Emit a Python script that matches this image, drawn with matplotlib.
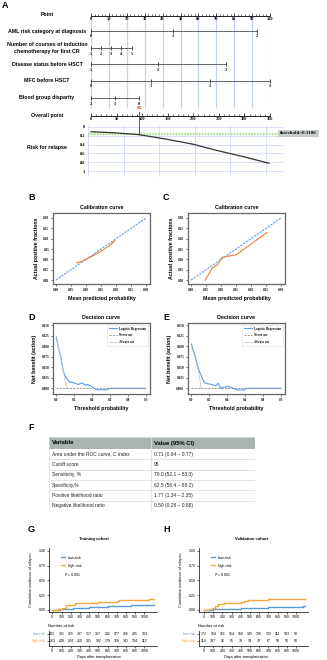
import numpy as np
import matplotlib
matplotlib.use('Agg')
import matplotlib.pyplot as plt

plt.rcParams['font.family'] = ['Liberation Sans', 'DejaVu Sans']
SERIF = ['Liberation Serif', 'DejaVu Serif']

# ---- A: nomogram
point_ticks = list(range(0, 101, 10))
aml_labels = ['0', '1', '2']
aml_points = [0, 45.8, 92.7]
course_labels = ['1', '2', '3', '4', '5']
course_points = [0, 5.6, 11.3, 16.9, 22.8]
status_labels = ['1', '2', '3']
status_points = [0, 37.4, 75.4]
mfc_labels = ['0', '1', '2', '3']
mfc_points = [0, 33.5, 66.5, 100]
blood_labels = ['2', '1', '0']
blood_points = [0, 13.4, 26.8]
total_ticks = list(range(0, 351, 50))
risk_total = [0, 50, 95, 150, 200, 250, 300, 350]
risk_value = [0.107, 0.135, 0.175, 0.28, 0.39, 0.54, 0.675, 0.825]
risk_ticks = [0, 0.2, 0.4, 0.6, 0.8, 1]
risk_ticklabels = ['0', '0.2', '0.4', '0.6', '0.8', '1']
cutoff = 95
cutoff_risk = 0.175
threshold_line = 0.166
threshold_text = 'threshold=0.1106'

# ---- B/C: calibration
cal_b_x = [0.069, 0.085, 0.105, 0.12, 0.15, 0.18, 0.197]
cal_b_y = [0.083, 0.09, 0.104, 0.115, 0.14, 0.168, 0.193]
cal_c_x = [0.047, 0.072, 0.089, 0.103, 0.15, 0.253]
cal_c_y = [0.0, 0.06, 0.075, 0.11, 0.122, 0.23]
cal_ticks = [0.0, 0.05, 0.10, 0.15, 0.20, 0.25, 0.30]

# ---- D/E: decision curves
dca_d_x = [0, 0.02, 0.05, 0.08, 0.10, 0.12, 0.15, 0.20, 0.25, 0.27, 0.29, 0.32,
           0.35, 0.40, 0.45, 0.50, 0.55, 0.60, 0.70, 0.80, 0.90, 1.0]
dca_d_y = [0.121, 0.10, 0.075, 0.039, 0.029, 0.022, 0.015, 0.0125, 0.009, 0.012,
           0.0125, 0.008, 0.009, 0.004, -0.004, -0.003, -0.004, 0, 0, 0, 0, 0]
all_d_x = [0.0, 0.06, 0.10, 0.115]
all_d_y = [0.125, 0.06, 0.015, 0.0]
dca_e_x = [0, 0.03, 0.055, 0.075, 0.092, 0.11, 0.14, 0.16, 0.18, 0.21, 0.24, 0.27,
           0.30, 0.33, 0.36, 0.39, 0.41, 0.46, 0.52, 0.59, 0.61, 0.7, 0.8, 0.9, 1.0]
dca_e_y = [0.105, 0.085, 0.067, 0.05, 0.039, 0.031, 0.016, 0.012, 0.011, 0.010,
           0.008, 0.006, 0.012, 0.0, 0.003, 0.003, 0.005, 0.001, -0.004, -0.004,
           0, 0, 0, 0, 0]
all_e_x = [0.0, 0.05, 0.09, 0.11]
all_e_y = [0.10, 0.065, 0.03, 0.0]
dca_yticks = [0.0, 0.025, 0.05, 0.075, 0.10, 0.125, 0.150]
dca_xticks = [0.0, 0.2, 0.4, 0.6, 0.8, 1.0]

# ---- F: table
table_vars = ['Area under the ROC curve, C index', 'Cutoff score', 'Sensitivity, %',
              'Specificity,%', 'Positive likelihood ratio', 'Negative likelihood ratio']
table_vals = ['0.71 (0.64 – 0.77)', '95', '70.0 (52.1 – 83.3)',
              '62.5 (56.4 – 68.2)', '1.77 (1.34 – 2.35)', '0.50 (0.28 – 0.86)']

# ---- G/H: cumulative incidence
days_ticks = list(range(0, 1001, 100))
g_low_t = [0, 80, 150, 220, 300, 400, 480, 600, 700, 760, 850, 1050, 1100]
g_low_y = [0, 0.01, 0.02, 0.03, 0.04, 0.045, 0.05, 0.06, 0.065, 0.075, 0.08, 0.085, 0.085]
g_high_t = [0, 60, 100, 150, 200, 250, 400, 500, 700, 730, 1000, 1050, 1100]
g_high_y = [0, 0.02, 0.04, 0.08, 0.09, 0.11, 0.12, 0.13, 0.15, 0.165, 0.17, 0.18, 0.18]
h_low_t = [0, 100, 180, 400, 520, 700, 1000, 1080, 1100]
h_low_y = [0, 0.01, 0.02, 0.03, 0.04, 0.045, 0.05, 0.06, 0.06]
h_high_t = [0, 60, 90, 120, 150, 220, 300, 400, 430, 480, 700, 750, 1100]
h_high_y = [0, 0.02, 0.04, 0.07, 0.10, 0.11, 0.12, 0.13, 0.15, 0.17, 0.18, 0.19, 0.19]
g_low_risk = [402, 381, 355, 337, 317, 307, 292, 277, 226, 205, 183]
g_high_risk = [263, 248, 224, 210, 201, 192, 179, 168, 141, 134, 112]
h_low_risk = [172, 164, 161, 154, 150, 145, 138, 133, 111, 103, 98]
h_high_risk = [114, 107, 92, 85, 78, 74, 70, 67, 59, 56, 50]

LOW_C = '#5b9bd5'
HIGH_C = '#f5a742'

W, H = 327, 660
fig = plt.figure(figsize=(W / 100, H / 100), dpi=100)


def box(l, t, w, h):
    return fig.add_axes([l / W, 1 - (t + h) / H, w / W, h / H])


def ftext(x, y, s, **kw):
    return fig.text(x / W, 1 - y / H, s, **kw)


for lab, x, y in [('A', 2, 6), ('B', 28, 197), ('C', 163, 197), ('D', 28, 318),
                  ('E', 163, 318), ('F', 28, 428), ('G', 28, 530), ('H', 163, 530)]:
    ftext(x, y, lab, fontsize=6.5, fontweight='bold', va='center')

# guide lines behind the nomogram
bg = box(91, 0, 179, 125)
bg.set_xlim(0, 100)
bg.set_ylim(125, 0)
bg.axis('off')
bg.vlines(point_ticks, 15.5, 108, color='#c4d1f6', lw=0.9, zorder=0)


def scale_row(y, xmax, ticks, labels, bound, dashed, minor=None, direction='in'):
    ax = box(91, y - 4, 179, 4)
    ax.set_xlim(0, xmax)
    ax.patch.set_alpha(0)
    for s in ['top', 'left', 'right']:
        ax.spines[s].set_visible(False)
    sp = ax.spines['bottom']
    sp.set_bounds(0, bound)
    sp.set_linewidth(0.6)
    if dashed:
        sp.set_linestyle((0, (2.5, 1.2)))
        sp.set_color('#444444')
    ax.set_yticks([])
    ax.set_xticks(ticks, labels)
    if minor is not None:
        ax.set_xticks(minor, minor=True)
    ax.tick_params(axis='x', which='major', direction=direction, length=2.5, width=0.5,
                   pad=1.2, labelsize=3.2)
    ax.tick_params(axis='x', which='minor', direction='in', length=1.3, width=0.4)
    for t in ax.get_xticklabels():
        t.set_family(SERIF)
        t.set_fontweight('bold')
    return ax


scale_row(15.7, 100, point_ticks, [str(v) for v in point_ticks], 100, False,
          minor=np.arange(0, 101, 2))
scale_row(31, 100, aml_points, aml_labels, max(aml_points), True, direction='inout')
scale_row(48.3, 100, course_points, course_labels, max(course_points), True, direction='inout')
scale_row(64.3, 100, status_points, status_labels, max(status_points), True, direction='inout')
scale_row(81, 100, mfc_points, mfc_labels, max(mfc_points), True, direction='inout')
scale_row(98.3, 100, blood_points, blood_labels, max(blood_points), True, direction='inout')
scale_row(115.5, 350, total_ticks, [str(v) for v in total_ticks], 350, False,
          minor=np.arange(0, 351, 10))

row_labels = [('Point', 14), ('AML risk category at diagnosis', 31),
              ('Number of courses of induction\nchemotherapy for first CR', 48),
              ('Disease status before HSCT', 64.3), ('MFC before HSCT', 81),
              ('Blood group disparity', 97.7), ('Overall point', 115),
              ('Risk for relapse', 147)]
for s, y in row_labels:
    ftext(47, y, s, fontsize=3.8, fontweight='bold', ha='center', va='center',
          linespacing=1.35)

# risk panel
axr = box(88, 125, 195, 52)
axr.set_xlim(-5.9, 377.5)
axr.set_ylim(1.136, -0.045)
axr.patch.set_alpha(0)
for s in axr.spines.values():
    s.set_visible(False)
axr.set_xticks(np.arange(-5.9, 377, 70))
axr.set_xticklabels([])
axr.tick_params(axis='x', length=0)
axr.set_yticks(risk_ticks, risk_ticklabels)
axr.tick_params(axis='y', length=0, pad=2, labelsize=3.2)
for t in axr.get_yticklabels():
    t.set_family(SERIF)
    t.set_fontweight('bold')
axr.grid(True, color='#d3dbfa', lw=0.6)
axr.axhline(threshold_line, color='#a6e08a', ls=(0, (0.8, 0.6)), lw=1.5)
axr.plot(risk_total, risk_value, color='#333333', lw=0.9)
axr.plot([cutoff, cutoff], [-0.33, cutoff_risk], color='#e8231f', lw=0.7, clip_on=False)
axr.text(cutoff, -0.38, str(cutoff), color='#e8231f', fontsize=3.8, fontweight='bold',
         family=SERIF, ha='center', va='bottom')
ftext(280, 133.5, threshold_text, fontsize=3.6, fontweight='bold', family=SERIF,
      va='center', bbox=dict(boxstyle='square,pad=0.35', fc='#c6cdca', ec='none'))


def style(ax, xt, yt, xfmt, yfmt):
    for s in ax.spines.values():
        s.set_color('#666666')
        s.set_linewidth(0.9)
    ax.set_xticks(xt, [xfmt.format(v) for v in xt])
    ax.set_yticks(yt, [yfmt.format(v) for v in yt])
    ax.tick_params(length=1.2, width=0.4, pad=1.5, labelsize=2.4)
    for t in ax.get_xticklabels() + ax.get_yticklabels():
        t.set_family(SERIF)
        t.set_fontweight('bold')


# calibration
for l, cx, cy in [(53, cal_b_x, cal_b_y), (188, cal_c_x, cal_c_y)]:
    ax = box(l, 213, 97, 71)
    ax.plot([0, 0.3], [0, 0.3], color='#5c9cf0', ls=(0, (2, 1)), lw=0.8)
    ax.plot(cx, cy, color='#f07b2e', lw=0.8)
    ax.set_xlim(-0.01, 0.313)
    ax.set_ylim(-0.019, 0.324)
    style(ax, cal_ticks, cal_ticks, '{:.2f}', '{:.2f}')
    ax.set_title('Calibration curve', fontsize=3.8, fontweight='bold', pad=3)
    ax.set_xlabel('Mean predicted probability', fontsize=3.8, fontweight='bold', labelpad=3)
    ax.set_ylabel('Actual positive fractions', fontsize=3.8, fontweight='bold', labelpad=3)

# decision curves
for l, dx, dy, ax_, ay_ in [(53, dca_d_x, dca_d_y, all_d_x, all_d_y),
                            (188, dca_e_x, dca_e_y, all_e_x, all_e_y)]:
    ax = box(l, 323, 97, 71)
    ax.plot(dx, dy, color='#5c9cf0', lw=0.8, label='Logistic Regression')
    ax.plot([0, 1], [0, 0], color='#888888', ls=(0, (2.5, 1.5)), lw=0.6, label='Never act')
    ax.plot(ax_, ay_, color='#cccccc', lw=0.6, label='Always act')
    ax.set_xlim(-0.037, 1.047)
    ax.set_ylim(-0.0135, 0.155)
    style(ax, dca_xticks, dca_yticks, '{:.1f}', '{:.3f}')
    ax.set_title('Decision curve', fontsize=3.8, fontweight='bold', pad=3)
    ax.set_xlabel('Threshold probability', fontsize=3.8, fontweight='bold', labelpad=3)
    ax.set_ylabel('Net benefit (action)', fontsize=3.8, fontweight='bold', labelpad=3)
    leg = ax.legend(loc='upper right', prop={'family': SERIF, 'weight': 'bold', 'size': 2.3},
                    handlelength=2.5, borderpad=0.6, labelspacing=0.8, fancybox=False,
                    edgecolor='#dddddd', framealpha=1)
    leg.get_frame().set_linewidth(0.4)

# table
axt = box(49, 437, 206, 74)
axt.set_xlim(0, 206)
axt.set_ylim(74, 0)
axt.axis('off')
axt.add_patch(plt.Rectangle((0, 0), 206, 12, fc='#a9b4b0', ec='none'))
axt.add_patch(plt.Rectangle((0, 0), 206, 74, fc='none', ec='#dddddd', lw=0.6))
axt.text(3, 6, 'Variable', fontsize=4.2, fontweight='bold', va='center')
axt.text(105, 6, 'Value (95% CI)', fontsize=4.2, fontweight='bold', va='center')
axt.plot([102, 102], [0, 74], color='#dddddd', lw=0.6)
for i, (v, s) in enumerate(zip(table_vars, table_vals)):
    yc = 12 + 10.33 * (i + 0.5)
    axt.text(3, yc, v, fontsize=3.5, va='center', color='#222222')
    axt.text(105, yc, s, fontsize=3.5, va='center', color='#222222')
    axt.plot([0, 206], [12 + 10.33 * (i + 1)] * 2, color='#dddddd', lw=0.6)

# cumulative incidence
panels = [(49, 'Training cohort', g_low_t, g_low_y, g_high_t, g_high_y,
           g_low_risk, g_high_risk, (-36, 1138), 94, 99),
          (199, 'Validation cohort', h_low_t, h_low_y, h_high_t, h_high_y,
           h_low_risk, h_high_risk, (-54, 1130), 252, 246)]
for l, title, lt, ly, ht, hy, lr, hr, xl, tx, dx in panels:
    w = 108 if l == 49 else 109
    ax = box(l, 548, w, 64)
    ax.step(lt, ly, where='post', color=LOW_C, lw=1.0, label='Low-risk')
    ax.step(ht, hy, where='post', color=HIGH_C, lw=1.0, label='High-risk')
    ax.set_xlim(*xl)
    ax.set_ylim(-0.034, 1.05)
    for s in ['top', 'right']:
        ax.spines[s].set_visible(False)
    for s in ['left', 'bottom']:
        ax.spines[s].set_linewidth(0.5)
    ax.set_xticks(days_ticks, [str(v) for v in days_ticks])
    ax.set_yticks([0, 0.25, 0.5, 0.75, 1.0], ['0.00', '0.25', '0.50', '0.75', '1.00'])
    ax.tick_params(length=1.2, width=0.4, pad=1, labelsize=2.5)
    ax.legend(loc='upper left', bbox_to_anchor=(0.08, 0.93), frameon=False,
              fontsize=2.6, handlelength=1.2, labelspacing=1.1)
    ax.text(0.14, 0.57, r'$\it{P}$ < 0.001', transform=ax.transAxes, fontsize=2.6)
    ftext(tx, 539, title, fontsize=3.0, fontweight='bold', ha='center', va='center')
    ftext(l - 18, 580, 'Cumulative incidence of relapse', fontsize=2.8, rotation=90,
          ha='center', va='center')

    rt = box(l, 631, w, 15)
    rt.set_xlim(*xl)
    rt.set_ylim(1.75, -0.4)
    for s in ['top', 'right']:
        rt.spines[s].set_visible(False)
    for s in ['left', 'bottom']:
        rt.spines[s].set_linewidth(0.5)
    for x, a, b in zip(days_ticks, lr, hr):
        rt.text(x, 0, str(a), fontsize=2.5, ha='center', va='center')
        rt.text(x, 1, str(b), fontsize=2.5, ha='center', va='center')
    rt.set_yticks([0, 1], ['Low-risk', 'High-risk'])
    rt.get_yticklabels()[0].set_color(LOW_C)
    rt.get_yticklabels()[1].set_color(HIGH_C)
    rt.set_xticks(days_ticks, [str(v) for v in days_ticks])
    rt.tick_params(length=1.2, width=0.4, pad=1, labelsize=2.5)
    ftext(l - 1, 627, 'Number at risk', fontsize=2.9)
    ftext(dx, 657, 'Days after transplantation', fontsize=2.8, ha='center', va='center')

fig.savefig('out.png', dpi=100)
